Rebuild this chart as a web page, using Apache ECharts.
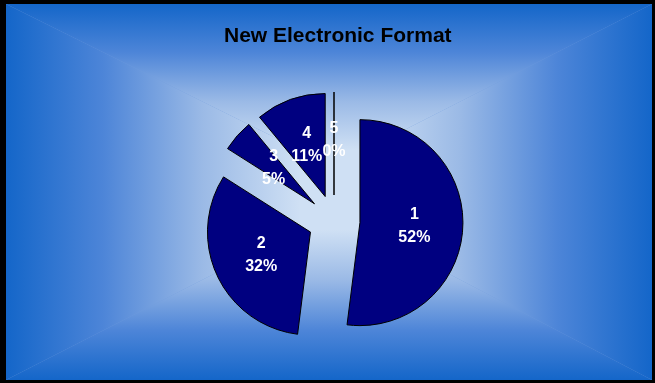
<!DOCTYPE html>
<html>
<head>
<meta charset="utf-8">
<script src="https://cdn.jsdelivr.net/npm/echarts@6/dist/echarts.min.js"></script>
<style>
  html, body { margin: 0; padding: 0; background: #000; }
  #chart {
    position: absolute; left: 6px; top: 4px;
    width: 646px; height: 376px;
  }
</style>
</head>
<body>
<div id="chart"></div>
<script>
const categories = ["1", "2", "3", "4", "5"];
const shares = [52, 32, 5, 11, 0];

const W = 646, H = 376;
// light rectangle in the middle of the "from center" fill
const inner = { x1: 294, y1: 146, x2: 359, y2: 226 };
const stops = [
  { offset: 0, color: "#1466c9" },
  { offset: 0.33, color: "#4d85d8" },
  { offset: 0.67, color: "#9bbae6" },
  { offset: 1, color: "#cfe0f4" }
];
const grad = (x, y, x2, y2) => ({ type: "linear", x, y, x2, y2, colorStops: stops });

const chart = echarts.init(document.getElementById("chart"));
chart.setOption({
  animation: false,
  graphic: [
    { type: "rect", z: -10, shape: { x: 0, y: 0, width: W, height: H }, style: { fill: "#6f9bdd" } },
    { type: "rect", z: -9, shape: { x: inner.x1 - 1, y: inner.y1 - 1, width: inner.x2 - inner.x1 + 2, height: inner.y2 - inner.y1 + 2 }, style: { fill: "#cfe0f4" } },
    { type: "polygon", z: -9, shape: { points: [[0, 0], [W, 0], [inner.x2, inner.y1], [inner.x1, inner.y1]] }, style: { fill: grad(0, 0, 0, 1) } },
    { type: "polygon", z: -9, shape: { points: [[0, H], [W, H], [inner.x2, inner.y2], [inner.x1, inner.y2]] }, style: { fill: grad(0, 1, 0, 0) } },
    { type: "polygon", z: -9, shape: { points: [[0, 0], [0, H], [inner.x1, inner.y2], [inner.x1, inner.y1]] }, style: { fill: grad(0, 0, 1, 0) } },
    { type: "polygon", z: -9, shape: { points: [[W, 0], [W, H], [inner.x2, inner.y2], [inner.x2, inner.y1]] }, style: { fill: grad(1, 0, 0, 0) } }
  ],
  title: {
    text: "New Electronic Format",
    left: 213,
    top: 17,
    textStyle: { fontFamily: "Arial", fontSize: 21, fontWeight: "bold", color: "#000" }
  },
  series: [{
    type: "pie",
    center: [328, 217],
    radius: 103,
    startAngle: 90,
    selectedMode: "multiple",
    selectedOffset: 26,
    percentPrecision: 0,
    itemStyle: { color: "#000080", borderColor: "#000", borderWidth: 1 },
    label: {
      position: "inside",
      formatter: "{b}\n{d}%",
      color: "#fff",
      fontFamily: "Arial",
      fontSize: 16,
      fontWeight: "bold",
      lineHeight: 23
    },
    labelLayout: { hideOverlap: false },
    labelLine: { show: false },
    emphasis: { disabled: true },
    data: categories.map((c, i) => ({ name: c, value: shares[i], selected: true }))
  }]
});
</script>
</body>
</html>
